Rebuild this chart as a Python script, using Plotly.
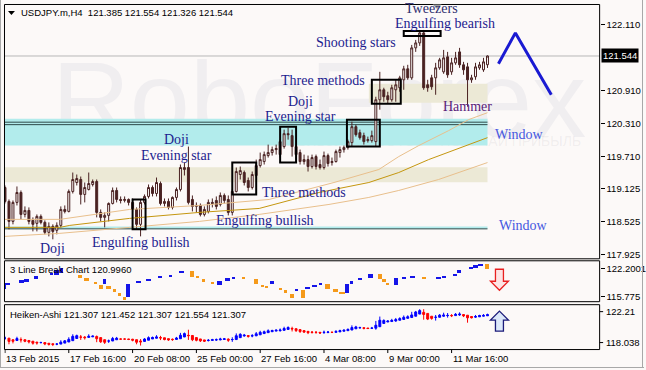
import plotly.graph_objects as go

W, H = 646, 370
BG = '#FCF9F8'
CANDLE = '#4a2222'
NAVY = '#1c1c8f'
WINBLUE = '#4657e0'
PURPLE = '#5a2278'
LB_UP = '#1515e8'
LB_DN = '#f59a1a'

# ---------------- data ----------------
date_labels = ["13 Feb 2015", "17 Feb 16:00", "20 Feb 08:00", "25 Feb 00:00",
               "27 Feb 16:00", "4 Mar 08:00", "9 Mar 00:00", "11 Mar 16:00"]
date_bars = [0, 16, 32, 48, 64, 80, 96, 112]

open_ = [119.146, 118.892, 118.528, 118.874, 119.055, 118.655, 118.728, 118.546, 118.492, 118.619,
         118.510, 118.328, 118.437, 118.365, 118.455, 118.746, 118.710, 119.074, 119.237, 119.292,
         119.019, 119.110, 119.201, 119.255, 118.692, 118.601, 118.637, 118.855, 119.092, 118.928,
         118.910, 118.928, 118.874, 118.746, 118.474, 118.874, 118.983, 119.146, 119.037, 119.219,
         118.855, 118.892, 118.783, 118.965, 119.110, 119.474, 119.510, 118.928, 118.801, 118.819,
         118.655, 118.710, 118.874, 118.910, 118.837, 119.001, 118.928, 118.692, 119.074, 119.383,
         119.419, 119.274, 119.146, 119.365, 119.546, 119.619, 119.728, 119.783, 119.837, 119.746,
         119.892, 120.128, 120.092, 119.892, 119.783, 119.619, 119.655, 119.528, 119.710, 119.565,
         119.510, 119.728, 119.601, 119.619, 119.783, 119.837, 119.874, 119.965, 120.255, 120.146,
         120.092, 120.001, 120.001, 119.983, 120.746, 120.928, 120.819, 120.746, 120.928, 120.965,
         121.110, 121.310, 121.146, 121.692, 121.783, 121.965, 121.019, 121.146, 121.146, 121.328,
         121.255, 121.528, 121.255, 121.419, 121.619, 121.383, 121.346, 121.110, 121.165, 121.328,
         121.292, 121.385]
high = [119.183, 118.928, 118.910, 119.165, 119.092, 118.801, 118.783, 118.601, 118.655, 118.655,
        118.546, 118.510, 118.474, 118.510, 118.801, 118.819, 119.110, 119.419, 119.383, 119.346,
        119.237, 119.419, 119.292, 119.292, 118.746, 118.692, 118.874, 119.146, 119.146, 118.983,
        118.983, 118.946, 118.946, 118.783, 118.928, 119.019, 119.201, 119.183, 119.328, 119.255,
        118.946, 118.946, 118.983, 119.146, 119.565, 119.601, 119.892, 119.001, 118.874, 118.855,
        118.801, 118.928, 118.946, 118.983, 119.055, 119.037, 119.001, 119.110, 119.510, 119.528,
        119.455, 119.328, 119.437, 119.655, 119.783, 119.801, 119.928, 119.892, 119.928, 120.019,
        120.201, 120.237, 120.201, 119.928, 119.837, 119.746, 119.728, 119.746, 119.746, 119.655,
        119.801, 119.764, 119.692, 119.837, 119.892, 119.910, 120.019, 120.346, 120.292, 120.201,
        120.146, 120.074, 120.183, 120.801, 121.255, 120.965, 120.892, 121.019, 121.110, 121.183,
        121.365, 121.383, 121.746, 121.837, 122.019, 122.019, 121.110, 121.201, 121.419, 121.510,
        121.655, 121.619, 121.510, 121.619, 121.692, 121.437, 121.419, 121.201, 121.419, 121.437,
        121.510, 121.554]
low = [118.855, 118.383, 118.474, 118.819, 118.565, 118.601, 118.474, 118.346, 118.346, 118.474,
       118.292, 118.255, 118.201, 118.292, 118.419, 118.674, 118.692, 119.037, 119.183, 118.837,
       118.874, 119.092, 119.165, 118.601, 118.528, 118.419, 118.528, 118.837, 118.874, 118.855,
       118.874, 118.819, 118.692, 118.383, 118.255, 118.837, 118.946, 118.983, 118.983, 118.819,
       118.801, 118.746, 118.746, 118.910, 119.074, 119.365, 118.837, 118.710, 118.692, 118.619,
       118.619, 118.674, 118.783, 118.746, 118.801, 118.855, 118.637, 118.637, 119.055, 119.292,
       119.183, 119.074, 119.110, 119.328, 119.510, 119.565, 119.692, 119.728, 119.746, 119.692,
       119.855, 120.019, 119.710, 119.655, 119.565, 119.565, 119.437, 119.492, 119.474, 119.474,
       119.474, 119.528, 119.546, 119.601, 119.692, 119.783, 119.837, 119.892, 120.074, 120.019,
       119.928, 119.965, 119.965, 119.892, 120.565, 120.710, 120.674, 120.710, 120.710, 120.892,
       120.928, 121.110, 121.110, 121.619, 121.728, 120.928, 120.892, 120.928, 120.837, 121.292,
       121.219, 121.146, 121.201, 121.383, 121.328, 121.201, 120.619, 121.055, 121.110, 121.292,
       121.255, 121.326]
close = [118.892, 118.528, 118.874, 119.055, 118.655, 118.728, 118.528, 118.474, 118.619, 118.510,
         118.328, 118.437, 118.346, 118.455, 118.746, 118.710, 119.074, 119.292, 119.310, 119.019,
         119.146, 119.219, 119.255, 118.692, 118.601, 118.637, 118.855, 119.092, 118.928, 118.910,
         118.928, 118.874, 118.746, 118.474, 118.874, 118.983, 119.146, 119.037, 119.237, 118.855,
         118.892, 118.783, 118.965, 119.110, 119.510, 119.510, 118.874, 118.801, 118.819, 118.655,
         118.746, 118.874, 118.855, 118.801, 119.001, 118.910, 118.692, 119.074, 119.437, 119.455,
         119.237, 119.146, 119.383, 119.546, 119.655, 119.746, 119.783, 119.837, 119.855, 119.983,
         120.128, 120.110, 119.892, 119.746, 119.619, 119.655, 119.528, 119.692, 119.528, 119.510,
         119.728, 119.583, 119.619, 119.801, 119.837, 119.874, 119.983, 120.255, 120.110, 120.055,
         119.983, 120.019, 120.092, 120.746, 120.928, 120.801, 120.746, 120.965, 121.019, 121.146,
         121.310, 121.146, 121.692, 121.783, 121.965, 120.965, 120.965, 120.983, 121.328, 121.474,
         121.510, 121.201, 121.419, 121.510, 121.383, 121.292, 121.110, 121.146, 121.346, 121.383,
         121.437, 121.544]

# moving-average vertices (bar index, price)
ma_upper_x = [0, 13.75, 31.25, 48.75, 66.25, 82.5, 93.75, 98.75, 103.75, 111.25, 116.25, 121]
ma_upper_y = [118.565, 118.565, 118.746, 118.819, 118.928, 119.237, 119.474, 119.710, 119.910, 120.183, 120.383, 120.510]
ma_mid_x = [0, 13.75, 16.25, 31.25, 48.75, 63.75, 78.75, 91.25, 98.75, 106.25, 121]
ma_mid_y = [118.419, 118.419, 118.455, 118.583, 118.692, 118.764, 119.055, 119.237, 119.419, 119.655, 120.055]
ma_lower_x = [0, 13.75, 31.25, 48.75, 63.75, 81.25, 91.25, 98.75, 108.75, 121]
ma_lower_y = [118.255, 118.310, 118.419, 118.528, 118.655, 118.837, 118.965, 119.092, 119.292, 119.601]

# 3 Line Break blocks
lb_x = [0.25, 1, 4.375, 5.625, 8, 11.7, 13.1, 14.2, 19, 20.6, 22.9, 24.1, 25, 26.1, 27.5, 28.75, 30, 30.9,
        33.5, 36, 39.1, 41.7, 44.4, 46.95, 48.3, 50, 52.1, 53.9, 56, 57.5, 60, 63, 64.6, 65.8, 67.1,
        69.2, 70.4, 72.1, 73.3, 74.9, 76, 77.7, 79.2, 81, 83.1, 84.6, 85.9, 87.1, 89.1, 91.75,
        94.1, 95.1, 96, 98.2, 100.1, 102.3, 105.1, 108.95, 110.1, 113, 114.1, 117, 118.1, 119.4, 120.9]
lb_w = [0.5, 1, 1.25, 1.25, 1, 0.8, 1.25, 0.8, 1.1, 1.25, 0.8, 1, 0.8, 1.1, 0.8, 0.8, 0.8, 1,
        1.25, 1.25, 1, 0.8, 1.25, 1.1, 0.8, 0.8, 0.8, 1.1, 1.25, 0.8, 0.8, 1, 0.8, 0.8, 0.8,
        0.8, 0.8, 0.8, 0.8, 1, 1.25, 1.25, 0.8, 1.25, 1.25, 1.6, 1, 0.8, 1, 1.1,
        1, 1, 0.8, 0.8, 1, 1.25, 1, 1.25, 1, 1.1, 1, 1, 1.25, 1.25, 1]
lb_top = [118.919, 118.919, 119.447, 119.676, 120.433, 121.213, 121.741, 122.361, 120.663, 119.906,
          119.148, 118.299, 119.676, 118.139, 117.382, 116.624, 115.615, 118.529,
          119.286, 119.837, 120.433, 120.663, 121.581, 121.581, 120.433, 119.676, 119.057, 119.286,
          119.906, 120.204, 120.204, 119.837, 118.368, 118.139, 119.286,
          117.772, 117.152, 116.234, 117.542, 117.152, 117.909, 118.368, 118.919, 118.690, 117.382,
          116.762, 118.529, 119.286, 120.066, 120.984,
          120.984, 119.676, 118.919, 119.906, 120.296, 120.433, 120.296, 120.204, 120.433, 120.984,
          121.741, 122.499, 122.888, 123.279, 123.118]
lb_bot = [117.382, 118.299, 119.057, 119.286, 119.837, 120.823, 120.663, 121.213, 119.906, 119.447,
          118.529, 117.542, 118.529, 117.382, 116.854, 115.844, 114.926, 115.615,
          118.919, 119.447, 120.066, 120.296, 121.122, 120.204, 119.906, 119.286, 118.529, 118.368,
          119.447, 119.906, 119.745, 118.690, 118.139, 117.772, 118.529,
          117.221, 116.624, 115.477, 116.992, 115.316, 117.382, 117.909, 118.529, 117.542, 116.992,
          116.395, 116.624, 118.529, 119.447, 120.066,
          119.676, 119.148, 118.368, 118.368, 119.906, 120.066, 119.906, 119.906, 120.066, 120.365,
          121.122, 122.040, 122.361, 122.888, 121.971]
lb_dir = ['u', 'u', 'u', 'u', 'u', 'u', 'u', 'u', 'd', 'd', 'd', 'd', 'u', 'd', 'd', 'd', 'd', 'u',
          'u', 'u', 'u', 'u', 'u', 'd', 'd', 'd', 'd', 'u', 'u', 'u', 'd', 'd', 'd', 'd', 'u',
          'd', 'd', 'd', 'u', 'd', 'u', 'u', 'u', 'd', 'd', 'd', 'u', 'u', 'u', 'u',
          'd', 'd', 'd', 'u', 'u', 'u', 'd', 'u', 'u', 'u', 'u', 'u', 'u', 'u', 'd']

main_ticks = [122.110, 120.910, 120.310, 119.710, 119.125, 118.525, 117.925]
main_tick_text = ['122.110', '120.910', '120.310', '119.710', '119.125', '118.525', '117.925']
last_price = 121.544
lb_ticks = [122.2001, 115.775]
lb_tick_text = ['122.2001', '115.775']

# forecast zigzag
fc_x = [123.75, 128.0, 137.0]
fc_y = [121.401, 121.965, 120.837]

# zones (price levels)
cyan_zone = (119.910, 120.401)
cyan_lines = [120.337, 120.292]
beige_low = (119.244, 119.517)
beige_up = (120.692, 121.037)
beige_up_x = (91.25, 121)
low_window = (118.392, 118.437)
zone_end = 121

# pattern boxes: (x0, x1, y0, y1) in bar index / price
boxes = [(32, 35.25, 118.383, 118.928),
         (57, 63, 119.019, 119.601),
         (69, 73, 119.601, 120.255),
         (85.75, 94, 119.892, 120.383),
         (92, 99.25, 120.674, 121.110),
         (100, 109.25, 121.910, 122.001)]

# ---------- Heiken-Ashi derived from the OHLC above ----------
n = len(close)
bars = list(range(n))
ha_close = [(open_[i] + high[i] + low[i] + close[i]) / 4 for i in range(n)]
ha_open = []
for i in range(n):
    if i == 0:
        ha_open.append((open_[0] + close[0]) / 2)
    else:
        ha_open.append((ha_open[-1] + ha_close[i - 1]) / 2)
ha_high = [max(high[i], ha_open[i], ha_close[i]) for i in range(n)]
ha_low = [min(low[i], ha_open[i], ha_close[i]) for i in range(n)]

# ---------------- figure ----------------
def px(x):
    return x / W

def py(y):
    return 1 - y / H

fig = go.Figure()

for xs, ys, col in [(ma_upper_x, ma_upper_y, '#e8bf8c'),
                    (ma_lower_x, ma_lower_y, '#e8bf8c'),
                    (ma_mid_x, ma_mid_y, '#c4960f')]:
    fig.add_trace(go.Scatter(x=xs, y=ys, mode='lines', line=dict(color=col, width=1),
                             hoverinfo='skip', xaxis='x', yaxis='y'))

fig.add_trace(go.Candlestick(
    x=bars, open=open_, high=high, low=low, close=close,
    increasing=dict(line=dict(color=CANDLE, width=1), fillcolor=BG),
    decreasing=dict(line=dict(color=CANDLE, width=1), fillcolor=CANDLE),
    whiskerwidth=0, hoverinfo='skip', xaxis='x', yaxis='y'))

fig.add_trace(go.Scatter(x=fc_x, y=fc_y, mode='lines', line=dict(color='#1a1ad2', width=3),
                         hoverinfo='skip', xaxis='x', yaxis='y'))

fig.add_trace(go.Bar(
    x=lb_x, y=[t - b for t, b in zip(lb_top, lb_bot)], base=lb_bot, width=lb_w,
    marker=dict(color=[LB_UP if d == 'u' else LB_DN for d in lb_dir], line=dict(width=0)),
    hoverinfo='skip', xaxis='x2', yaxis='y2'))

fig.add_trace(go.Candlestick(
    x=bars, open=ha_open, high=ha_high, low=ha_low, close=ha_close,
    increasing=dict(line=dict(color='#0000ff', width=1), fillcolor='#0000ff'),
    decreasing=dict(line=dict(color='#ff0000', width=1), fillcolor='#ff0000'),
    whiskerwidth=0, hoverinfo='skip', xaxis='x3', yaxis='y3'))

shapes = []
XL, XR = -0.125, zone_end
# watermark (below traces)
shapes.append(dict(type='rect', xref='paper', yref='paper', x0=px(40), x1=px(600), y0=py(150), y1=py(30),
                   line=dict(width=0), fillcolor='rgba(0,0,0,0)', layer='below',
                   label=dict(text='RoboForex', textposition='middle center',
                              font=dict(size=108, color='#F0EEF0', family='Liberation Sans'))))
# zones
shapes.append(dict(type='rect', xref='x', yref='y', x0=XL, x1=XR, y0=cyan_zone[0], y1=cyan_zone[1],
                   line=dict(width=0), fillcolor='#B2ECEC', layer='below'))
shapes.append(dict(type='rect', xref='paper', yref='paper', x0=px(250), x1=px(600), y0=py(150), y1=py(132),
                   line=dict(width=0), fillcolor='rgba(0,0,0,0)', layer='below',
                   label=dict(text='ИСПОЛЬЗУЙ РОБОТОВ – ПОЛУЧАЙ ПРИБЫЛЬ', textposition='middle center',
                              font=dict(size=14, color='rgba(140,140,150,0.11)', family='Liberation Sans'))))
for lv in cyan_lines:
    shapes.append(dict(type='line', xref='x', yref='y', x0=XL, x1=XR, y0=lv, y1=lv,
                       line=dict(color='#2e4a4a', width=1), layer='below'))
shapes.append(dict(type='rect', xref='x', yref='y', x0=XL, x1=XR, y0=beige_low[0], y1=beige_low[1],
                   line=dict(width=0), fillcolor='#ECE9D6', layer='below'))
shapes.append(dict(type='rect', xref='x', yref='y', x0=beige_up_x[0], x1=beige_up_x[1],
                   y0=beige_up[0], y1=beige_up[1], line=dict(width=0), fillcolor='#ECE9D6', layer='below'))
shapes.append(dict(type='rect', xref='x', yref='y', x0=XL, x1=XR, y0=low_window[0], y1=low_window[1],
                   line=dict(width=0), fillcolor='#B2ECEC', layer='below'))
shapes.append(dict(type='line', xref='x', yref='y', x0=XL, x1=XR, y0=low_window[0], y1=low_window[0],
                   line=dict(color='#2e4a4a', width=1), layer='below'))
# current price line
shapes.append(dict(type='line', xref='paper', yref='y', x0=px(4.5), x1=px(601.5), y0=last_price, y1=last_price,
                   line=dict(color='#b8b8b8', width=1), layer='below'))
# pattern boxes
for x0, x1, y0, y1 in boxes:
    shapes.append(dict(type='rect', xref='x', yref='y', x0=x0, x1=x1, y0=y0, y1=y1,
                       line=dict(color='black', width=2), fillcolor='rgba(0,0,0,0)', layer='above'))
# panel frames
for (y0, y1) in [(4.5, 259.5), (261.5, 302.5), (305.5, 350.5)]:
    shapes.append(dict(type='rect', xref='paper', yref='paper', x0=px(4.5), x1=px(601.5),
                       y0=py(y1), y1=py(y0), line=dict(color='black', width=1),
                       fillcolor='rgba(0,0,0,0)', layer='above'))
# window frame
for (x0, y0, x1, y1) in [(0.5, 0, 0.5, 369), (644.5, 0, 644.5, 369), (0, 368.5, 646, 368.5)]:
    shapes.append(dict(type='line', xref='paper', yref='paper', x0=px(x0), x1=px(x1), y0=py(y0), y1=py(y1),
                       line=dict(color='#a8a8a8', width=1)))
# bottom date ticks
for b in date_bars:
    shapes.append(dict(type='line', xref='x', yref='paper', x0=b, x1=b, y0=py(350.5), y1=py(354),
                       line=dict(color='black', width=1)))
# panel-3 tick marks
for yy in [312.5, 343.5]:
    shapes.append(dict(type='line', xref='paper', yref='paper', x0=px(601.5), x1=px(605), y0=py(yy), y1=py(yy),
                       line=dict(color='black', width=1)))

def path(pts):
    s = 'M ' + ' L '.join(f'{px(x):.5f},{py(y):.5f}' for x, y in pts) + ' Z'
    return s

# title triangle and top shift marker
shapes.append(dict(type='path', xref='paper', yref='paper', path=path([(8, 11), (15, 11), (11.5, 15)]),
                   fillcolor='black', line=dict(width=0)))
shapes.append(dict(type='path', xref='paper', yref='paper', path=path([(434, 4.5), (443, 4.5), (438.5, 9)]),
                   fillcolor='#a0a0a0', line=dict(width=0)))
# red down arrow & blue up arrow
shapes.append(dict(type='path', xref='paper', yref='paper',
                   path=path([(497, 270), (505, 270), (505, 282), (510, 282), (501, 291), (492, 282), (497, 282)]),
                   fillcolor='#fde4e4', line=dict(color='#e82020', width=1.3)))
shapes.append(dict(type='path', xref='paper', yref='paper',
                   path=path([(501, 312), (510, 321), (505, 321), (505, 332), (497, 332), (497, 321), (492, 321)]),
                   fillcolor='#dce8fa', line=dict(color='#1b1b7a', width=1.3)))

ann = []
SANS = 'Liberation Sans'
SERIF = 'Liberation Serif'
ann.append(dict(x=px(19), y=py(13), xref='paper', yref='paper', xanchor='left', yanchor='middle',
                text='USDJPY.m,H4  121.385 121.554 121.326 121.544', showarrow=False,
                font=dict(family=SANS, size=9.5, color='black')))
ann.append(dict(x=px(8), y=py(270.5), xref='paper', yref='paper', xanchor='left', yanchor='middle',
                text='3 Line Break Chart 120.9960', showarrow=False,
                font=dict(family=SANS, size=9.5, color='black')))
ann.append(dict(x=px(8), y=py(315), xref='paper', yref='paper', xanchor='left', yanchor='middle',
                text='Heiken-Ashi 121.307 121.452 121.307 121.554 121.307', showarrow=False,
                font=dict(family=SANS, size=9.5, color='black')))
ann.append(dict(x=px(603), y=last_price, xref='paper', yref='y', xanchor='left', yanchor='middle',
                text='121.544', showarrow=False, bgcolor='black', borderpad=1,
                font=dict(family=SANS, size=9.5, color='white')))
for t, yy in [('122.21', 312), ('118.038', 343)]:
    ann.append(dict(x=px(606), y=py(yy), xref='paper', yref='paper', xanchor='left', yanchor='middle',
                    text=t, showarrow=False, font=dict(family=SANS, size=9.5, color='black')))
for b, t in zip(date_bars, date_labels):
    ann.append(dict(x=b, y=py(359.5), xref='x', yref='paper', xanchor='left', yanchor='middle',
                    text=t, showarrow=False, borderpad=0, font=dict(family=SANS, size=9.5, color='black')))

patterns = [('Tweezers', 433, 9, '#2d2d6e'), ('Engulfing bearish', 446, 24, NAVY),
            ('Shooting stars', 357, 43, NAVY), ('Three methods', 324, 81, NAVY),
            ('Doji', 301, 102, NAVY), ('Evening star', 301, 117, NAVY),
            ('Doji', 177, 140, NAVY), ('Evening star', 177, 156, NAVY),
            ('Three methods', 305, 193, NAVY), ('Engulfing bullish', 266, 221, NAVY),
            ('Engulfing bullish', 141, 243, NAVY), ('Doji', 53, 249, NAVY),
            ('Window', 521, 135, WINBLUE), ('Window', 525, 226, WINBLUE),
            ('Hammer', 469, 107, PURPLE)]
for t, x, y, c in patterns:
    ann.append(dict(x=px(x), y=py(y), xref='paper', yref='paper', xanchor='center', yanchor='middle',
                    text=t, showarrow=False, borderpad=0, font=dict(family=SERIF, size=14, color=c)))

xdom = [px(4.5), px(601.5)]
xr = [-0.125, 149.125]
common_x = dict(domain=xdom, range=xr, showgrid=False, zeroline=False, showticklabels=False,
                ticks='', showline=False, fixedrange=True)
common_y = dict(side='right', showgrid=False, zeroline=False, showline=False, fixedrange=True,
                ticks='outside', ticklen=4, tickcolor='black', tickwidth=1,
                tickfont=dict(family=SANS, size=9.5, color='black'))

fig.update_layout(
    width=W, height=H, margin=dict(l=0, r=0, t=0, b=0),
    paper_bgcolor=BG, plot_bgcolor=BG, showlegend=False,
    font=dict(family=SANS),
    xaxis=dict(**common_x, anchor='y', rangeslider=dict(visible=False)),
    xaxis2=dict(**common_x, anchor='y2', matches='x'),
    xaxis3=dict(**common_x, anchor='y3', matches='x', rangeslider=dict(visible=False)),
    yaxis=dict(**common_y, anchor='x', domain=[py(259.5), py(4.5)], range=[117.846, 122.483],
               tickvals=main_ticks, ticktext=main_tick_text),
    yaxis2=dict(**common_y, anchor='x2', domain=[py(302.5), py(261.5)], range=[114.513, 123.921],
                tickvals=lb_ticks, ticktext=lb_tick_text),
    yaxis3=dict(side='right', showgrid=False, zeroline=False, showline=False, fixedrange=True,
                showticklabels=False, ticks='', anchor='x3',
                domain=[py(350.5), py(305.5)], range=[117.839, 122.485]),
    shapes=shapes, annotations=ann, bargap=0,
)

fig.write_html('out.html')
